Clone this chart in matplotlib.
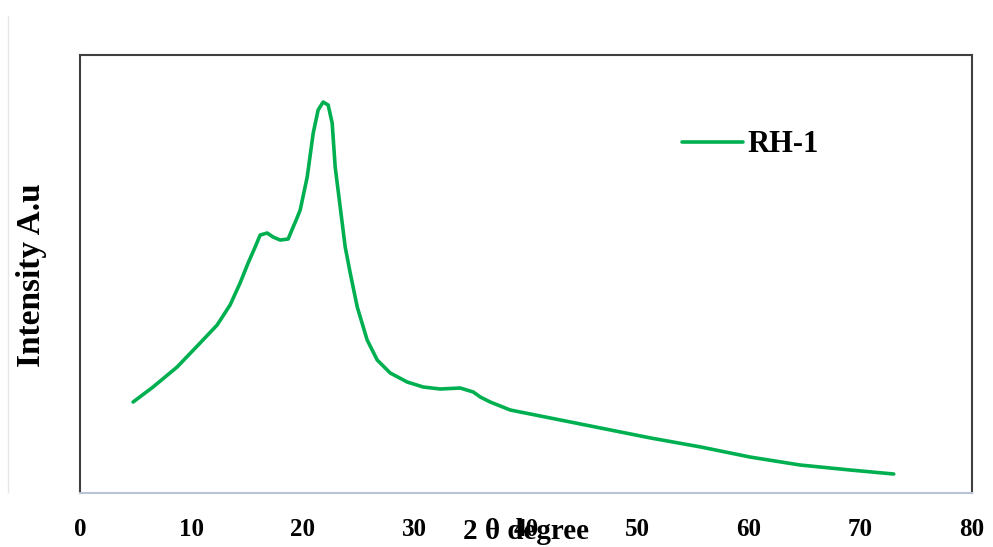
import matplotlib
matplotlib.use("Agg")
import matplotlib.pyplot as plt
from matplotlib.lines import Line2D

two_theta = [4.76, 6.55, 8.71, 10.77, 12.30, 13.46, 14.36, 15.08, 15.71, 16.16, 16.79,
             17.32, 17.95, 18.67, 19.12, 19.39, 19.75, 20.38, 20.92, 21.36, 21.81,
             22.26, 22.62, 22.89, 23.34, 23.79, 24.24, 24.87, 25.76, 26.66, 27.83,
             29.35, 30.79, 32.32, 34.11, 35.28, 35.91, 36.8, 38.6, 42.2, 46.7, 51.2,
             55.7, 60.1, 64.6, 69.1, 73.0]
intensity = [91, 106, 126, 150, 168, 188, 210, 230, 246, 258, 260,
             256, 253, 254, 266, 273, 283, 316, 360, 383, 391,
             388, 370, 326, 286, 246, 220, 186, 153, 133, 120,
             111, 106, 104, 105, 101, 96, 91, 83, 75, 65, 55,
             46, 36, 28, 23, 19]
x_ticks = [0, 10, 20, 30, 40, 50, 60, 70, 80]
series_name = "RH-1"

plt.rcParams['font.family'] = ['Liberation Serif', 'DejaVu Serif']
plt.rcParams['font.weight'] = 'bold'

fig = plt.figure(figsize=(9.93, 5.47), dpi=100)
ax = fig.add_axes([0.0806, 0.0987, 0.898, 0.8007])

ax.plot(two_theta, intensity, color='#00b050', lw=2.6, label=series_name,
        solid_capstyle='round', solid_joinstyle='round')
ax.set_xlim(0, 80)
ax.set_ylim(0, 438)
ax.set_xticks(x_ticks)
ax.set_xticklabels([str(t) for t in x_ticks], fontsize=18, fontweight='bold')
ax.set_yticks([])
ax.tick_params(axis='x', length=0, pad=18)

for s in ['left', 'top', 'right']:
    ax.spines[s].set_color('#404040')
    ax.spines[s].set_linewidth(1.5)
ax.spines['bottom'].set_color('#b8c4d4')
ax.spines['bottom'].set_linewidth(1.5)

ax.set_xlabel('2 θ degree', fontsize=21, fontweight='bold')
ax.xaxis.set_label_coords(0.5, -0.057)
ax.set_ylabel('Intensity A.u', fontsize=24, fontweight='bold')
ax.yaxis.set_label_coords(-0.037, 0.498)

leg = ax.legend(loc='center left', bbox_to_anchor=(0.675, 0.795), frameon=False,
                borderaxespad=0, borderpad=0, handlelength=2.0, handletextpad=0.15,
                prop={'size': 22, 'weight': 'bold'})

fig.add_artist(Line2D([0.008, 0.008], [0.1, 0.97], color='#e6e6e6', lw=1))

fig.savefig('out.png', dpi=100)
